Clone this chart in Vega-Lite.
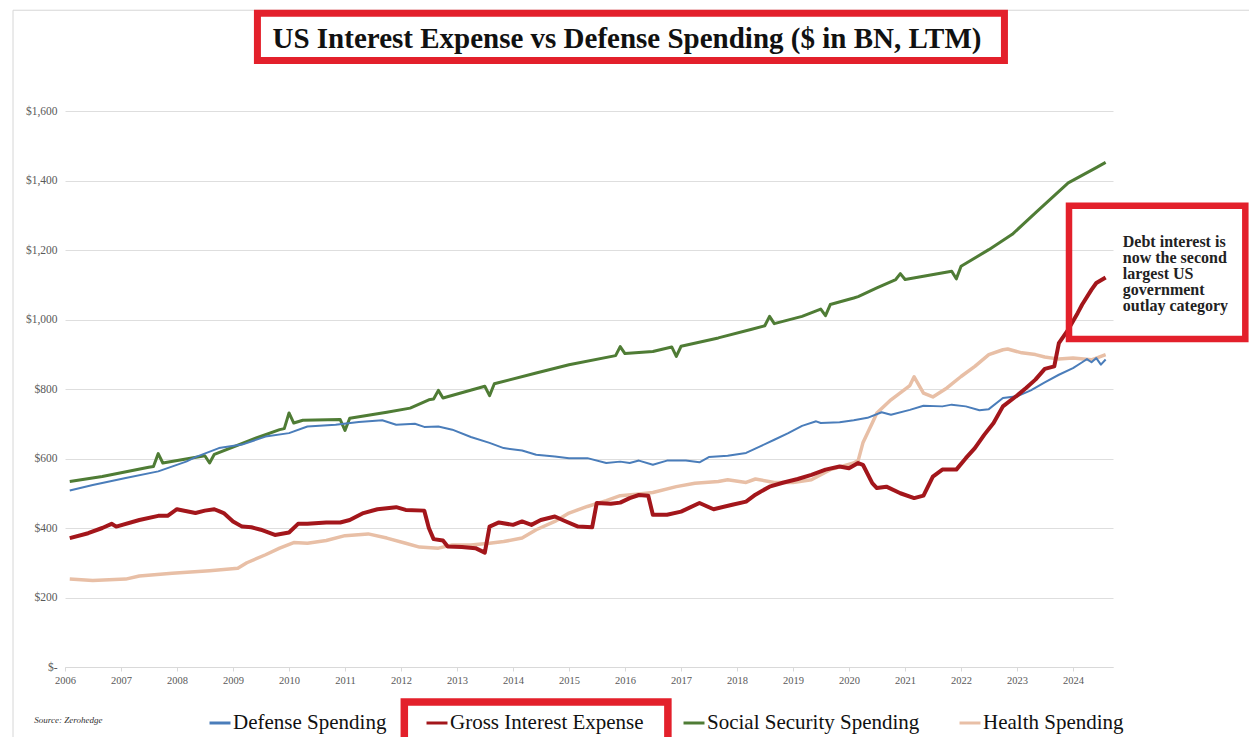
{
"$schema": "https://vega.github.io/schema/vega-lite/v6.json",
"width": 1048, "height": 556,
"autosize": {"type": "none"},
"padding": {"left": 65, "top": 111, "right": 136, "bottom": 70},
"background": "white",
"config": {
  "view": {"stroke": null},
  "font": "Liberation Serif",
  "legend": {"orient": "none", "legendX": 143, "legendY": 600, "direction": "horizontal", "symbolType": "stroke", "symbolStrokeWidth": 3, "symbolSize": 440, "labelFont": "Liberation Serif", "labelFontSize": 21, "labelColor": "#111111", "labelOffset": 1, "columnPadding": 33, "padding": 0, "labelLimit": 400}
},
"title": {"text": "US Interest Expense vs Defense Spending ($ in BN, LTM)", "font": "Liberation Serif", "fontSize": 29, "fontWeight": "bold", "color": "#111111", "anchor": "middle", "frame": "group", "dx": 38, "offset": -67, "baseline": "alphabetic"},
"data": {"values": [
{"series":"Health Spending","date":"2006-02-01","value":253},{"series":"Health Spending","date":"2006-07-01","value":249},{"series":"Health Spending","date":"2007-02-01","value":253},{"series":"Health Spending","date":"2007-05-01","value":262},{"series":"Health Spending","date":"2007-12-01","value":270},{"series":"Health Spending","date":"2008-08-01","value":277},{"series":"Health Spending","date":"2009-02-01","value":284},{"series":"Health Spending","date":"2009-04-01","value":300},{"series":"Health Spending","date":"2009-08-01","value":323},{"series":"Health Spending","date":"2009-11-01","value":342},{"series":"Health Spending","date":"2010-02-01","value":358},{"series":"Health Spending","date":"2010-05-01","value":356},{"series":"Health Spending","date":"2010-09-01","value":364},{"series":"Health Spending","date":"2011-01-01","value":378},{"series":"Health Spending","date":"2011-06-01","value":383},{"series":"Health Spending","date":"2011-10-01","value":371},{"series":"Health Spending","date":"2012-02-01","value":356},{"series":"Health Spending","date":"2012-05-01","value":345},{"series":"Health Spending","date":"2012-09-01","value":342},{"series":"Health Spending","date":"2012-12-01","value":351},{"series":"Health Spending","date":"2013-04-01","value":351},{"series":"Health Spending","date":"2013-08-01","value":356},{"series":"Health Spending","date":"2013-11-01","value":361},{"series":"Health Spending","date":"2014-03-01","value":371},{"series":"Health Spending","date":"2014-06-01","value":395},{"series":"Health Spending","date":"2014-10-01","value":419},{"series":"Health Spending","date":"2015-01-01","value":443},{"series":"Health Spending","date":"2015-05-01","value":462},{"series":"Health Spending","date":"2015-09-01","value":479},{"series":"Health Spending","date":"2015-12-01","value":493},{"series":"Health Spending","date":"2016-04-01","value":498},{"series":"Health Spending","date":"2016-07-01","value":502},{"series":"Health Spending","date":"2016-12-01","value":519},{"series":"Health Spending","date":"2017-04-01","value":529},{"series":"Health Spending","date":"2017-09-01","value":534},{"series":"Health Spending","date":"2017-11-01","value":539},{"series":"Health Spending","date":"2018-03-01","value":531},{"series":"Health Spending","date":"2018-05-01","value":541},{"series":"Health Spending","date":"2018-09-01","value":531},{"series":"Health Spending","date":"2019-01-01","value":531},{"series":"Health Spending","date":"2019-05-01","value":539},{"series":"Health Spending","date":"2019-09-01","value":568},{"series":"Health Spending","date":"2020-02-01","value":587},{"series":"Health Spending","date":"2020-03-01","value":594},{"series":"Health Spending","date":"2020-04-01","value":645},{"series":"Health Spending","date":"2020-06-01","value":702},{"series":"Health Spending","date":"2020-07-01","value":731},{"series":"Health Spending","date":"2020-10-01","value":769},{"series":"Health Spending","date":"2021-02-01","value":810},{"series":"Health Spending","date":"2021-03-01","value":835},{"series":"Health Spending","date":"2021-05-01","value":788},{"series":"Health Spending","date":"2021-07-01","value":777},{"series":"Health Spending","date":"2021-10-01","value":803},{"series":"Health Spending","date":"2022-01-01","value":836},{"series":"Health Spending","date":"2022-04-01","value":865},{"series":"Health Spending","date":"2022-07-01","value":899},{"series":"Health Spending","date":"2022-10-01","value":913},{"series":"Health Spending","date":"2022-11-01","value":915},{"series":"Health Spending","date":"2023-02-01","value":904},{"series":"Health Spending","date":"2023-05-01","value":899},{"series":"Health Spending","date":"2023-07-01","value":892},{"series":"Health Spending","date":"2023-10-01","value":886},{"series":"Health Spending","date":"2024-01-01","value":889},{"series":"Health Spending","date":"2024-05-01","value":884},{"series":"Health Spending","date":"2024-06-01","value":889},{"series":"Health Spending","date":"2024-08-01","value":899},
{"series":"Social Security Spending","date":"2006-02-01","value":534},{"series":"Social Security Spending","date":"2006-09-01","value":548},{"series":"Social Security Spending","date":"2007-07-01","value":575},{"series":"Social Security Spending","date":"2007-08-01","value":577},{"series":"Social Security Spending","date":"2007-09-01","value":614},{"series":"Social Security Spending","date":"2007-10-01","value":587},{"series":"Social Security Spending","date":"2008-07-01","value":608},{"series":"Social Security Spending","date":"2008-08-01","value":587},{"series":"Social Security Spending","date":"2008-09-01","value":612},{"series":"Social Security Spending","date":"2009-06-01","value":659},{"series":"Social Security Spending","date":"2009-11-01","value":683},{"series":"Social Security Spending","date":"2009-12-01","value":686},{"series":"Social Security Spending","date":"2010-01-01","value":731},{"series":"Social Security Spending","date":"2010-02-01","value":702},{"series":"Social Security Spending","date":"2010-04-01","value":710},{"series":"Social Security Spending","date":"2010-12-01","value":712},{"series":"Social Security Spending","date":"2011-01-01","value":681},{"series":"Social Security Spending","date":"2011-02-01","value":716},{"series":"Social Security Spending","date":"2011-10-01","value":733},{"series":"Social Security Spending","date":"2012-03-01","value":745},{"series":"Social Security Spending","date":"2012-07-01","value":769},{"series":"Social Security Spending","date":"2012-08-01","value":771},{"series":"Social Security Spending","date":"2012-09-01","value":796},{"series":"Social Security Spending","date":"2012-10-01","value":774},{"series":"Social Security Spending","date":"2013-07-01","value":808},{"series":"Social Security Spending","date":"2013-08-01","value":781},{"series":"Social Security Spending","date":"2013-09-01","value":815},{"series":"Social Security Spending","date":"2014-06-01","value":846},{"series":"Social Security Spending","date":"2015-01-01","value":870},{"series":"Social Security Spending","date":"2015-11-01","value":896},{"series":"Social Security Spending","date":"2015-12-01","value":922},{"series":"Social Security Spending","date":"2016-01-01","value":902},{"series":"Social Security Spending","date":"2016-07-01","value":908},{"series":"Social Security Spending","date":"2016-11-01","value":921},{"series":"Social Security Spending","date":"2016-12-01","value":894},{"series":"Social Security Spending","date":"2017-01-01","value":923},{"series":"Social Security Spending","date":"2017-09-01","value":947},{"series":"Social Security Spending","date":"2018-04-01","value":971},{"series":"Social Security Spending","date":"2018-07-01","value":982},{"series":"Social Security Spending","date":"2018-08-01","value":1009},{"series":"Social Security Spending","date":"2018-09-01","value":988},{"series":"Social Security Spending","date":"2019-03-01","value":1009},{"series":"Social Security Spending","date":"2019-07-01","value":1030},{"series":"Social Security Spending","date":"2019-08-01","value":1011},{"series":"Social Security Spending","date":"2019-09-01","value":1043},{"series":"Social Security Spending","date":"2020-02-01","value":1062},{"series":"Social Security Spending","date":"2020-03-01","value":1066},{"series":"Social Security Spending","date":"2020-07-01","value":1091},{"series":"Social Security Spending","date":"2020-11-01","value":1115},{"series":"Social Security Spending","date":"2020-12-01","value":1132},{"series":"Social Security Spending","date":"2021-01-01","value":1115},{"series":"Social Security Spending","date":"2021-11-01","value":1139},{"series":"Social Security Spending","date":"2021-12-01","value":1117},{"series":"Social Security Spending","date":"2022-01-01","value":1153},{"series":"Social Security Spending","date":"2022-07-01","value":1201},{"series":"Social Security Spending","date":"2022-12-01","value":1245},{"series":"Social Security Spending","date":"2023-05-01","value":1307},{"series":"Social Security Spending","date":"2023-12-01","value":1393},{"series":"Social Security Spending","date":"2024-06-01","value":1437},{"series":"Social Security Spending","date":"2024-08-01","value":1452},
{"series":"Defense Spending","date":"2006-02-01","value":508},{"series":"Defense Spending","date":"2006-07-01","value":524},{"series":"Defense Spending","date":"2007-02-01","value":544},{"series":"Defense Spending","date":"2007-09-01","value":563},{"series":"Defense Spending","date":"2008-03-01","value":591},{"series":"Defense Spending","date":"2008-05-01","value":604},{"series":"Defense Spending","date":"2008-10-01","value":630},{"series":"Defense Spending","date":"2009-03-01","value":640},{"series":"Defense Spending","date":"2009-08-01","value":663},{"series":"Defense Spending","date":"2010-01-01","value":673},{"series":"Defense Spending","date":"2010-05-01","value":692},{"series":"Defense Spending","date":"2010-11-01","value":697},{"series":"Defense Spending","date":"2011-04-01","value":705},{"series":"Defense Spending","date":"2011-09-01","value":710},{"series":"Defense Spending","date":"2011-12-01","value":697},{"series":"Defense Spending","date":"2012-04-01","value":700},{"series":"Defense Spending","date":"2012-06-01","value":691},{"series":"Defense Spending","date":"2012-09-01","value":692},{"series":"Defense Spending","date":"2012-12-01","value":683},{"series":"Defense Spending","date":"2013-04-01","value":662},{"series":"Defense Spending","date":"2013-08-01","value":645},{"series":"Defense Spending","date":"2013-11-01","value":630},{"series":"Defense Spending","date":"2014-03-01","value":623},{"series":"Defense Spending","date":"2014-06-01","value":611},{"series":"Defense Spending","date":"2014-10-01","value":606},{"series":"Defense Spending","date":"2015-01-01","value":601},{"series":"Defense Spending","date":"2015-05-01","value":601},{"series":"Defense Spending","date":"2015-09-01","value":587},{"series":"Defense Spending","date":"2015-12-01","value":591},{"series":"Defense Spending","date":"2016-02-01","value":587},{"series":"Defense Spending","date":"2016-04-01","value":594},{"series":"Defense Spending","date":"2016-07-01","value":582},{"series":"Defense Spending","date":"2016-10-01","value":594},{"series":"Defense Spending","date":"2017-02-01","value":594},{"series":"Defense Spending","date":"2017-05-01","value":589},{"series":"Defense Spending","date":"2017-07-01","value":604},{"series":"Defense Spending","date":"2017-11-01","value":608},{"series":"Defense Spending","date":"2018-03-01","value":616},{"series":"Defense Spending","date":"2018-06-01","value":635},{"series":"Defense Spending","date":"2018-09-01","value":654},{"series":"Defense Spending","date":"2018-12-01","value":673},{"series":"Defense Spending","date":"2019-03-01","value":694},{"series":"Defense Spending","date":"2019-06-01","value":707},{"series":"Defense Spending","date":"2019-07-01","value":702},{"series":"Defense Spending","date":"2019-11-01","value":704},{"series":"Defense Spending","date":"2020-02-01","value":710},{"series":"Defense Spending","date":"2020-05-01","value":717},{"series":"Defense Spending","date":"2020-08-01","value":733},{"series":"Defense Spending","date":"2020-10-01","value":726},{"series":"Defense Spending","date":"2021-02-01","value":740},{"series":"Defense Spending","date":"2021-05-01","value":752},{"series":"Defense Spending","date":"2021-09-01","value":750},{"series":"Defense Spending","date":"2021-11-01","value":755},{"series":"Defense Spending","date":"2022-02-01","value":750},{"series":"Defense Spending","date":"2022-05-01","value":739},{"series":"Defense Spending","date":"2022-07-01","value":742},{"series":"Defense Spending","date":"2022-10-01","value":774},{"series":"Defense Spending","date":"2023-01-01","value":779},{"series":"Defense Spending","date":"2023-04-01","value":796},{"series":"Defense Spending","date":"2023-07-01","value":819},{"series":"Defense Spending","date":"2023-10-01","value":841},{"series":"Defense Spending","date":"2024-01-01","value":860},{"series":"Defense Spending","date":"2024-03-01","value":877},{"series":"Defense Spending","date":"2024-04-01","value":886},{"series":"Defense Spending","date":"2024-05-01","value":877},{"series":"Defense Spending","date":"2024-06-01","value":889},{"series":"Defense Spending","date":"2024-07-01","value":870},{"series":"Defense Spending","date":"2024-08-01","value":885},
{"series":"Gross Interest Expense","date":"2006-02-01","value":371},{"series":"Gross Interest Expense","date":"2006-06-01","value":385},{"series":"Gross Interest Expense","date":"2006-09-01","value":400},{"series":"Gross Interest Expense","date":"2006-11-01","value":412},{"series":"Gross Interest Expense","date":"2006-12-01","value":404},{"series":"Gross Interest Expense","date":"2007-05-01","value":423},{"series":"Gross Interest Expense","date":"2007-09-01","value":435},{"series":"Gross Interest Expense","date":"2007-11-01","value":435},{"series":"Gross Interest Expense","date":"2008-01-01","value":454},{"series":"Gross Interest Expense","date":"2008-05-01","value":443},{"series":"Gross Interest Expense","date":"2008-07-01","value":450},{"series":"Gross Interest Expense","date":"2008-09-01","value":454},{"series":"Gross Interest Expense","date":"2008-11-01","value":443},{"series":"Gross Interest Expense","date":"2009-01-01","value":419},{"series":"Gross Interest Expense","date":"2009-03-01","value":404},{"series":"Gross Interest Expense","date":"2009-05-01","value":402},{"series":"Gross Interest Expense","date":"2009-07-01","value":395},{"series":"Gross Interest Expense","date":"2009-10-01","value":380},{"series":"Gross Interest Expense","date":"2010-01-01","value":387},{"series":"Gross Interest Expense","date":"2010-03-01","value":412},{"series":"Gross Interest Expense","date":"2010-05-01","value":412},{"series":"Gross Interest Expense","date":"2010-09-01","value":416},{"series":"Gross Interest Expense","date":"2010-12-01","value":416},{"series":"Gross Interest Expense","date":"2011-02-01","value":423},{"series":"Gross Interest Expense","date":"2011-05-01","value":443},{"series":"Gross Interest Expense","date":"2011-08-01","value":454},{"series":"Gross Interest Expense","date":"2011-12-01","value":460},{"series":"Gross Interest Expense","date":"2012-02-01","value":452},{"series":"Gross Interest Expense","date":"2012-06-01","value":450},{"series":"Gross Interest Expense","date":"2012-07-01","value":400},{"series":"Gross Interest Expense","date":"2012-08-01","value":368},{"series":"Gross Interest Expense","date":"2012-10-01","value":364},{"series":"Gross Interest Expense","date":"2012-11-01","value":347},{"series":"Gross Interest Expense","date":"2013-02-01","value":345},{"series":"Gross Interest Expense","date":"2013-05-01","value":342},{"series":"Gross Interest Expense","date":"2013-07-01","value":329},{"series":"Gross Interest Expense","date":"2013-08-01","value":404},{"series":"Gross Interest Expense","date":"2013-10-01","value":416},{"series":"Gross Interest Expense","date":"2014-01-01","value":409},{"series":"Gross Interest Expense","date":"2014-03-01","value":419},{"series":"Gross Interest Expense","date":"2014-05-01","value":409},{"series":"Gross Interest Expense","date":"2014-07-01","value":423},{"series":"Gross Interest Expense","date":"2014-10-01","value":433},{"series":"Gross Interest Expense","date":"2014-12-01","value":421},{"series":"Gross Interest Expense","date":"2015-03-01","value":404},{"series":"Gross Interest Expense","date":"2015-06-01","value":402},{"series":"Gross Interest Expense","date":"2015-07-01","value":472},{"series":"Gross Interest Expense","date":"2015-10-01","value":470},{"series":"Gross Interest Expense","date":"2015-12-01","value":473},{"series":"Gross Interest Expense","date":"2016-02-01","value":486},{"series":"Gross Interest Expense","date":"2016-04-01","value":495},{"series":"Gross Interest Expense","date":"2016-06-01","value":493},{"series":"Gross Interest Expense","date":"2016-07-01","value":438},{"series":"Gross Interest Expense","date":"2016-10-01","value":438},{"series":"Gross Interest Expense","date":"2017-01-01","value":447},{"series":"Gross Interest Expense","date":"2017-05-01","value":472},{"series":"Gross Interest Expense","date":"2017-08-01","value":454},{"series":"Gross Interest Expense","date":"2017-12-01","value":467},{"series":"Gross Interest Expense","date":"2018-03-01","value":476},{"series":"Gross Interest Expense","date":"2018-05-01","value":496},{"series":"Gross Interest Expense","date":"2018-08-01","value":519},{"series":"Gross Interest Expense","date":"2018-11-01","value":531},{"series":"Gross Interest Expense","date":"2019-02-01","value":541},{"series":"Gross Interest Expense","date":"2019-05-01","value":553},{"series":"Gross Interest Expense","date":"2019-08-01","value":568},{"series":"Gross Interest Expense","date":"2019-11-01","value":577},{"series":"Gross Interest Expense","date":"2020-01-01","value":572},{"series":"Gross Interest Expense","date":"2020-03-01","value":587},{"series":"Gross Interest Expense","date":"2020-04-01","value":582},{"series":"Gross Interest Expense","date":"2020-06-01","value":529},{"series":"Gross Interest Expense","date":"2020-07-01","value":515},{"series":"Gross Interest Expense","date":"2020-09-01","value":519},{"series":"Gross Interest Expense","date":"2020-12-01","value":500},{"series":"Gross Interest Expense","date":"2021-03-01","value":486},{"series":"Gross Interest Expense","date":"2021-05-01","value":493},{"series":"Gross Interest Expense","date":"2021-07-01","value":548},{"series":"Gross Interest Expense","date":"2021-09-01","value":568},{"series":"Gross Interest Expense","date":"2021-12-01","value":568},{"series":"Gross Interest Expense","date":"2022-02-01","value":601},{"series":"Gross Interest Expense","date":"2022-04-01","value":630},{"series":"Gross Interest Expense","date":"2022-06-01","value":668},{"series":"Gross Interest Expense","date":"2022-08-01","value":702},{"series":"Gross Interest Expense","date":"2022-10-01","value":750},{"series":"Gross Interest Expense","date":"2023-01-01","value":781},{"series":"Gross Interest Expense","date":"2023-03-01","value":803},{"series":"Gross Interest Expense","date":"2023-05-01","value":827},{"series":"Gross Interest Expense","date":"2023-07-01","value":858},{"series":"Gross Interest Expense","date":"2023-09-01","value":865},{"series":"Gross Interest Expense","date":"2023-10-01","value":932},{"series":"Gross Interest Expense","date":"2023-12-01","value":971},{"series":"Gross Interest Expense","date":"2024-02-01","value":1019},{"series":"Gross Interest Expense","date":"2024-03-01","value":1043},{"series":"Gross Interest Expense","date":"2024-05-01","value":1086},{"series":"Gross Interest Expense","date":"2024-06-01","value":1105},{"series":"Gross Interest Expense","date":"2024-08-01","value":1121}
]},
"layer": [
{
  "transform": [{"filter": "datum.series === 'Health Spending'"}],
  "mark": {"type": "line", "strokeWidth": 3.5, "strokeJoin": "round"},
  "encoding": {
    "x": {"field": "date", "type": "temporal", "title": null, "scale": {"type": "time", "domain": [{"year": 2006, "month": 1, "date": 1}, {"year": 2024, "month": 9, "date": 18}]},
      "axis": {"title": null, "format": "%Y", "tickCount": {"interval": "year", "step": 1}, "grid": false, "domainColor": "#d9d9d9", "tickColor": "#d9d9d9", "tickSize": 4, "labelFont": "Liberation Serif", "labelFontSize": 10.5, "labelColor": "#595959", "labelPadding": 4, "labelFlush": false, "labelOverlap": false}},
    "y": {"field": "value", "type": "quantitative", "title": null, "scale": {"domain": [0, 1600], "nice": false, "zero": true},
      "axis": {"title": null, "values": [0, 200, 400, 600, 800, 1000, 1200, 1400, 1600], "labelExpr": "datum.value === 0 ? '$-' : '$' + format(datum.value, ',')", "grid": true, "gridColor": "#dedede", "gridWidth": 1, "domain": false, "ticks": false, "labelPadding": 8, "labelFont": "Liberation Serif", "labelFontSize": 11.5, "labelColor": "#595959"}},
    "color": {"field": "series", "type": "nominal", "scale": {"domain": ["Defense Spending", "Gross Interest Expense", "Social Security Spending", "Health Spending"], "range": ["#4a7dba", "#a3161b", "#4f7c35", "#e8bfa6"]}, "legend": {"title": null}}
  }
},
{
  "transform": [{"filter": "datum.series === 'Social Security Spending'"}],
  "mark": {"type": "line", "strokeWidth": 3, "strokeJoin": "round"},
  "encoding": {
    "x": {"field": "date", "type": "temporal", "title": null},
    "y": {"field": "value", "type": "quantitative", "title": null},
    "color": {"field": "series", "type": "nominal", "legend": {"title": null}}
  }
},
{
  "transform": [{"filter": "datum.series === 'Defense Spending'"}],
  "mark": {"type": "line", "strokeWidth": 2, "strokeJoin": "round"},
  "encoding": {
    "x": {"field": "date", "type": "temporal", "title": null},
    "y": {"field": "value", "type": "quantitative", "title": null},
    "color": {"field": "series", "type": "nominal", "legend": {"title": null}}
  }
},
{
  "transform": [{"filter": "datum.series === 'Gross Interest Expense'"}],
  "mark": {"type": "line", "strokeWidth": 4, "strokeJoin": "round"},
  "encoding": {
    "x": {"field": "date", "type": "temporal", "title": null},
    "y": {"field": "value", "type": "quantitative", "title": null},
    "color": {"field": "series", "type": "nominal", "legend": {"title": null}}
  }
},
{
  "data": {"values": [{"box": "frame"}]},
  "mark": {"type": "rect", "filled": false, "stroke": "#d6d6d6", "strokeWidth": 1},
  "encoding": {
    "x": {"datum": {"year": 2005, "month": 1, "date": 27}, "type": "temporal"},
    "x2": {"datum": {"year": 2027, "month": 6, "date": 1}},
    "y": {"datum": 1890, "type": "quantitative"},
    "y2": {"datum": -300}
  }
},
{
  "data": {"values": [{"box": "title"}]},
  "mark": {"type": "rect", "filled": false, "stroke": "#e3202b", "strokeWidth": 7},
  "encoding": {
    "x": {"datum": {"year": 2009, "month": 6, "date": 9}, "type": "temporal"},
    "x2": {"datum": {"year": 2022, "month": 10, "date": 11}},
    "y": {"datum": 1881, "type": "quantitative"},
    "y2": {"datum": 1745}
  }
},
{
  "data": {"values": [{"box": "legend"}]},
  "mark": {"type": "rect", "filled": false, "stroke": "#e3202b", "strokeWidth": 7.5},
  "encoding": {
    "x": {"datum": {"year": 2012, "month": 1, "date": 23}, "type": "temporal"},
    "x2": {"datum": {"year": 2016, "month": 10, "date": 7}},
    "y": {"datum": -101, "type": "quantitative"},
    "y2": {"datum": -224}
  }
},
{
  "data": {"values": [{"box": "note"}]},
  "mark": {"type": "rect", "filled": false, "stroke": "#e3202b", "strokeWidth": 6.5},
  "encoding": {
    "x": {"datum": {"year": 2023, "month": 12, "date": 6}, "type": "temporal"},
    "x2": {"datum": {"year": 2027, "month": 1, "date": 29}},
    "y": {"datum": 1327, "type": "quantitative"},
    "y2": {"datum": 944}
  }
},
{
  "data": {"values": [{"note": "Debt interest is\nnow the second\nlargest US\ngovernment\noutlay category"}]},
  "mark": {"type": "text", "lineBreak": "\n", "align": "left", "baseline": "middle", "font": "Liberation Serif", "fontSize": 16, "fontWeight": "bold", "lineHeight": 16, "color": "#222222"},
  "encoding": {
    "x": {"datum": {"year": 2024, "month": 11, "date": 21}, "type": "temporal"},
    "y": {"datum": 1224, "type": "quantitative"},
    "text": {"field": "note"}
  }
},
{
  "data": {"values": [{"note": "Source: Zerohedge"}]},
  "mark": {"type": "text", "align": "left", "baseline": "middle", "font": "Liberation Serif", "fontSize": 9, "fontStyle": "italic", "color": "#333333"},
  "encoding": {
    "x": {"datum": {"year": 2005, "month": 6, "date": 15}, "type": "temporal"},
    "y": {"datum": -152, "type": "quantitative"},
    "text": {"field": "note"}
  }
}
]
}
